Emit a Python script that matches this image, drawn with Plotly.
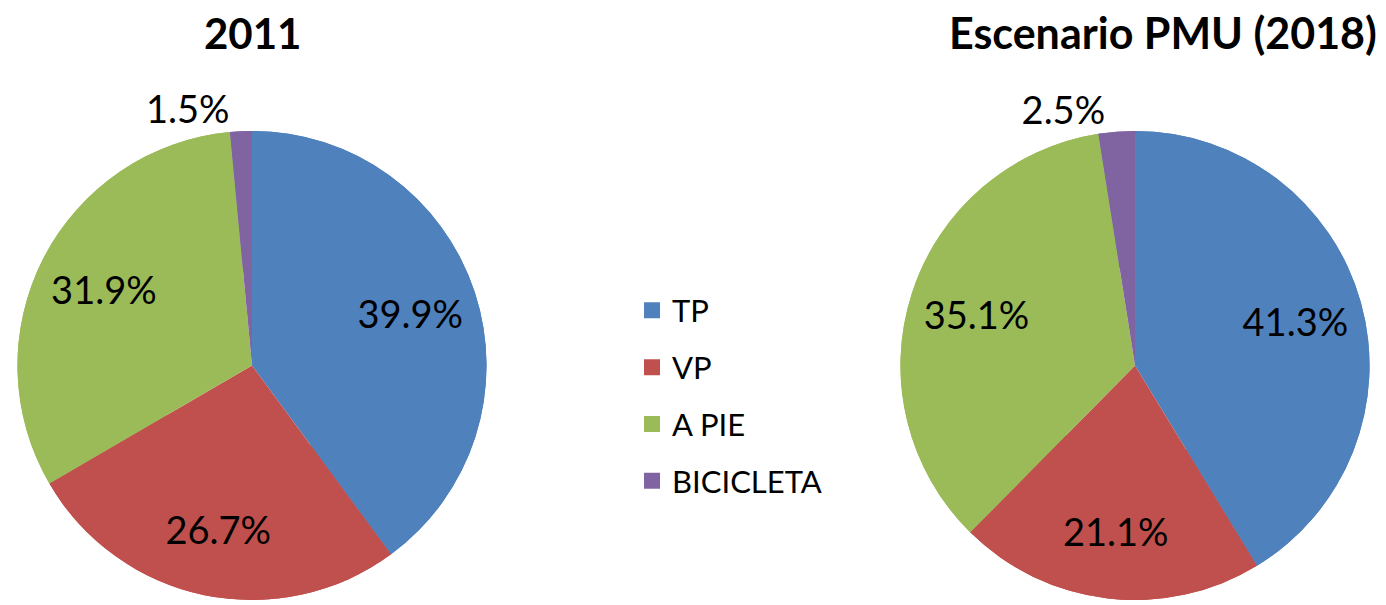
import plotly.graph_objects as go

# categorías y valores (%)
categorias = ["TP", "VP", "A PIE", "BICICLETA"]
valores_2011 = [39.9, 26.7, 31.9, 1.5]
valores_2018 = [41.3, 21.1, 35.1, 2.5]
colores = ["#4F81BD", "#C0504D", "#9BBB59", "#8064A2"]
titulos = ["2011", "Escenario PMU (2018)"]

W, H = 1386, 605
fuente = "Lato, 'Open Sans', sans-serif"

fig = go.Figure()

posiciones = ["inside", "inside", "inside", "outside"]
dominios = [
    dict(x=[14 / W, 490 / W], y=[0, 1 - 132 / H]),
    dict(x=[897 / W, 1373 / W], y=[0, 1 - 132 / H]),
]

for valores, dom in zip([valores_2011, valores_2018], dominios):
    # pastel completo (fondo, sin texto)
    fig.add_trace(go.Pie(
        labels=categorias, values=valores,
        marker=dict(colors=colores, line=dict(width=0)),
        sort=False, direction="clockwise", rotation=0,
        textinfo="none", domain=dom,
        showlegend=False, hoverinfo="skip",
    ))
    # anillo encima: sólo para llevar las etiquetas hacia afuera
    fig.add_trace(go.Pie(
        labels=categorias, values=valores, hole=0.42,
        marker=dict(colors=colores, line=dict(width=0)),
        sort=False, direction="clockwise", rotation=0,
        texttemplate="%{value:.1f}%", textposition=posiciones,
        insidetextorientation="horizontal",
        textfont=dict(size=38, color="black", family=fuente),
        domain=dom, showlegend=False, hoverinfo="label+value",
    ))

# leyenda (trazas vacías con marcador cuadrado)
for cat, col in zip(categorias, colores):
    fig.add_trace(go.Scatter(
        x=[None], y=[None], mode="markers", name=cat,
        marker=dict(symbol="square", size=16, color=col),
        legendgroup=cat, showlegend=True,
    ))

fig.update_layout(
    width=W, height=H,
    margin=dict(l=0, r=0, t=0, b=0),
    paper_bgcolor="white", plot_bgcolor="white",
    xaxis=dict(visible=False), yaxis=dict(visible=False),
    font=dict(family=fuente, color="black"),
    legend=dict(
        x=0.456, y=1 - 399 / H, xanchor="left", yanchor="middle",
        font=dict(size=31, family=fuente, color="black"),
        tracegroupgap=13.5, bgcolor="rgba(0,0,0,0)",
    ),
    annotations=[
        dict(text="<b>" + titulos[0] + "</b>", x=252 / W, y=1 - 33 / H,
             xref="paper", yref="paper", showarrow=False,
             xanchor="center", yanchor="middle",
             font=dict(size=42, family=fuente, color="black")),
        dict(text="<b>" + titulos[1] + "</b>", x=1163 / W, y=1 - 33 / H,
             xref="paper", yref="paper", showarrow=False,
             xanchor="center", yanchor="middle",
             font=dict(size=43, family=fuente, color="black")),
    ],
)

fig.write_html("out.html", config={"displayModeBar": False},
               post_script="document.body.style.margin='0';")
